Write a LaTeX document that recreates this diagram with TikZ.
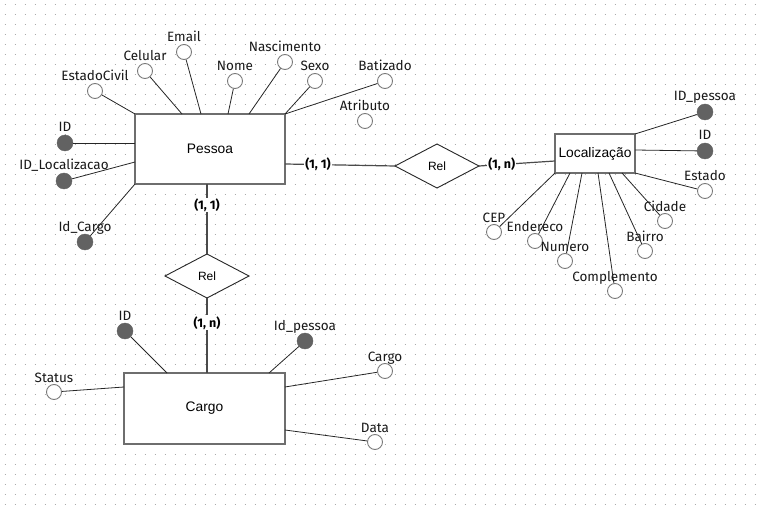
\documentclass[tikz,border=0pt]{standalone}
\usepackage{fontspec}
\setmainfont{Fira Sans}
\newfontfamily\entfont{Liberation Sans}
\usetikzlibrary{shapes.geometric}

\definecolor{edgegray}{HTML}{6E6E6E}
\definecolor{keygray}{HTML}{626262}
\definecolor{ringgray}{HTML}{7A7A7A}
\definecolor{dotgray}{HTML}{AAAAAA}
\definecolor{linkgray}{HTML}{4A4A4A}

\tikzset{
  entity/.style={rectangle, draw=edgegray, line width=1.6pt, fill=white, outer sep=0pt,
    inner sep=0pt, font=\entfont\fontsize{13.8}{16}\selectfont},
  relation/.style={diamond, draw=black!85, line width=0.9pt, fill=white, outer sep=0pt,
    minimum width=84pt, minimum height=44pt, inner sep=0pt,
    font=\entfont\fontsize{12}{14}\selectfont},
  attr/.style={circle, draw=ringgray, line width=0.9pt, fill=white,
    minimum size=15pt, inner sep=0pt},
  keyattr/.style={circle, draw=keygray, fill=keygray, minimum size=16pt, inner sep=0pt},
  attrname/.style={font=\fontsize{13.5}{16}\selectfont, inner sep=0pt, anchor=base,
    text=black!90},
  card/.style={font=\bfseries\fontsize{12.5}{15}\selectfont, fill=white, inner sep=1pt},
  attrlink/.style={draw=black!85, line width=0.8pt},
  rellink/.style={draw=linkgray, line width=1.2pt},
}

\begin{document}
\begin{tikzpicture}[x=1pt,y=-1pt]
  % canvas and dotted grid
  \fill[white] (0,0) rectangle (762,505);
  \useasboundingbox (0,0) rectangle (762,505);
  \foreach \y in {4.5,14.5,...,504.5}
    \draw[dotgray, line width=1pt, dash pattern=on 1pt off 9pt] (4.5,\y) -- (762,\y);

  % entities and relationships
  \node[entity, minimum width=150pt, minimum height=70pt] (pessoa) at (210,149) {Pessoa};
  \node[entity, minimum width=161pt, minimum height=71pt] (cargo) at (204.5,408.5) {Cargo};
  \node[entity, minimum width=80pt, minimum height=39pt] (loc) at (595,153.5) {Localização};
  \node[relation] (relPC) at (207,276) {Rel};
  \node[relation] (relPL) at (437,166) {Rel};

  % plain attributes
  \foreach \n/\x/\y/\t in {
      aEstCivil/95/91/EstadoCivil, aCelular/145/71/Celular, aEmail/184/52/Email,
      aNome/235/81/Nome, aNasc/285/62/Nascimento, aSexo/315/81/Sexo,
      aBatizado/385/81/Batizado, aAtributo/365/121/Atributo,
      cStatus/54/392/Status, cCargo/385/371/Cargo, cData/375/442/Data,
      lEstado/705/191/Estado, lCEP/494/232/CEP, lEnd/535/241/Endereco,
      lNum/565/261/Numero, lComp/615/291/Complemento, lBairro/645/251/Bairro,
      lCidade/665/221/Cidade}
  {
    \node[attr] (\n) at (\x,\y) {};
    \node[attrname] (\n-name) at ([yshift=10pt]\n.center) {\t};
  }

  % key attributes
  \foreach \n/\x/\y/\t in {
      pID/65/143/ID, pIDLoc/64/181/ID\_Localizacao, pIdCargo/85/242/Id\_Cargo,
      cID/125/331/ID, cIdPessoa/305/341/Id\_pessoa,
      lIDPessoa/705/112/ID\_pessoa, lID/705/151/ID}
  {
    \node[keyattr] (\n) at (\x,\y) {};
    \node[attrname] (\n-name) at ([yshift=11pt]\n.center) {\t};
  }

  % Pessoa attributes
  \draw[attrlink] (aEstCivil) -- (pessoa.north west);
  \draw[attrlink] (aCelular) -- ([xshift=47pt]pessoa.north west);
  \draw[attrlink] (aEmail) -- ([xshift=66pt]pessoa.north west);
  \draw[attrlink] (aNome) -- ([xshift=93pt]pessoa.north west);
  \draw[attrlink] (aNasc) -- ([xshift=114pt]pessoa.north west);
  \draw[attrlink] (aSexo) -- (pessoa.north east);
  \draw[attrlink] (aBatizado) -- (pessoa.north east);
  \draw[attrlink] (pID) -- ([yshift=-29pt]pessoa.north west);
  \draw[attrlink] (pIDLoc) -- ([yshift=-48pt]pessoa.north west);
  \draw[attrlink] (pIdCargo) -- (pessoa.south west);

  % Cargo attributes
  \draw[attrlink] (cID) -- ([xshift=43pt]cargo.north west);
  \draw[attrlink] (cIdPessoa) -- ([xshift=145pt]cargo.north west);
  \draw[attrlink] (cStatus) -- ([yshift=-14pt]cargo.north west);
  \draw[attrlink] (cCargo) -- ([yshift=-14pt]cargo.north east);
  \draw[attrlink] (cData) -- ([yshift=-57pt]cargo.north east);

  % Localização attributes
  \draw[attrlink] (lIDPessoa) -- (loc.north east);
  \draw[attrlink] (lID) -- ([yshift=-16pt]loc.north east);
  \draw[attrlink] (lEstado) -- (loc.south east);
  \draw[attrlink] (lCEP) -- (loc.south west);
  \draw[attrlink] (lEnd) -- ([xshift=15pt]loc.south west);
  \draw[attrlink] (lNum) -- ([xshift=27pt]loc.south west);
  \draw[attrlink] (lComp) -- ([xshift=43pt]loc.south west);
  \draw[attrlink] (lBairro) -- ([xshift=54pt]loc.south west);
  \draw[attrlink] (lCidade) -- ([xshift=67pt]loc.south west);

  % relationship links with cardinalities
  \draw[rellink] ([xshift=-3pt]pessoa.south) -- node[card, pos=0.3] (kPC1) {(1, 1)} (relPC.north);
  \draw[rellink] (relPC.south) -- node[card, pos=0.33] (kPC2) {(1, n)} (relPC.south |- cargo.north);
  \draw[rellink] ([yshift=-50pt]pessoa.north east) -- node[card, pos=0.3] (kPL1) {(1, 1)} (relPL.west);
  \draw[rellink] (relPL.east) -- node[card, pos=0.3] (kPL2) {(1, n)} ([yshift=-27pt]loc.north west);
\end{tikzpicture}
\end{document}
